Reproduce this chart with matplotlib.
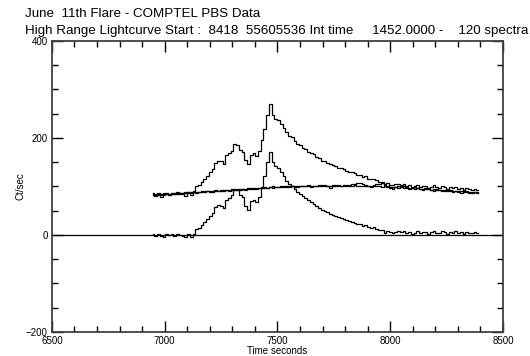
import numpy as np
import matplotlib
matplotlib.use('Agg')
from matplotlib import pyplot as plt
from matplotlib.ticker import MultipleLocator

# 120 spectra, 1452 s integration, starting ~6948 s
t_start = 6948.0
bin_width = 12.1

gross = [86, 80, 86, 82, 82, 87, 83, 87, 85, 88,
         86, 85, 81, 89, 83, 90, 101, 103, 109, 116,
         122, 129, 136, 148, 153, 152, 146, 164, 169, 174,
         187, 186, 175, 172, 155, 146, 165, 168, 163, 174,
         195, 218, 247, 270, 247, 240, 237, 228, 221, 212,
         205, 202, 193, 188, 185, 180, 177, 172, 169, 166,
         161, 158, 153, 152, 148, 146, 145, 142, 139, 138,
         136, 132, 129, 129, 127, 124, 124, 120, 121, 116,
         115, 116, 113, 110, 110, 105, 107, 104, 103, 105,
         106, 104, 105, 101, 104, 99, 100, 104, 99, 100,
         102, 97, 99, 103, 98, 96, 101, 98, 94, 99,
         96, 98, 95, 96, 92, 97, 94, 92, 95, 92]

background = [84, 83, 85, 84, 86, 85, 84, 86, 87, 85,
              86, 87, 86, 88, 87, 88, 89, 88, 89, 90,
              90, 89, 91, 90, 91, 92, 91, 92, 93, 92,
              93, 94, 93, 94, 95, 94, 95, 96, 95, 96,
              97, 96, 97, 98, 97, 98, 99, 98, 99, 100,
              99, 100, 99, 100, 101, 100, 101, 100, 101, 102,
              101, 102, 101, 102, 101, 102, 103, 102, 101, 102,
              103, 102, 101, 102, 103, 102, 101, 102, 101, 100,
              101, 100, 101, 100, 99, 100, 99, 98, 99, 98,
              97, 98, 97, 96, 97, 96, 95, 96, 95, 94,
              95, 94, 93, 94, 93, 92, 93, 92, 91, 92,
              91, 90, 91, 90, 89, 90, 89, 88, 89, 88]

background2 = [82, 84, 83, 78, 84, 85, 83, 85, 84, 86,
               85, 87, 88, 86, 88, 89, 87, 89, 90, 88,
               91, 90, 89, 92, 91, 90, 93, 92, 91, 94,
               92, 93, 95, 94, 93, 96, 97, 95, 96, 97,
               96, 98, 97, 99, 100, 99, 98, 100, 101, 99,
               100, 102, 101, 99, 100, 102, 101, 103, 99, 100,
               102, 103, 104, 103, 100, 97, 101, 104, 103, 102,
               101, 103, 104, 106, 105, 107, 108, 106, 104, 101,
               99, 103, 105, 106, 107, 104, 101, 97, 95, 98,
               101, 102, 100, 98, 95, 96, 98, 97, 94, 93,
               96, 95, 93, 91, 94, 92, 90, 91, 93, 90,
               89, 91, 88, 87, 90, 88, 87, 86, 88, 87]

net = [2, -3, 1, -2, -4, 2, -1, 1, -2, 3,
       0, -2, -5, 1, -4, 2, 12, 15, 20, 26,
       32, 40, 45, 58, 62, 60, 55, 72, 76, 82,
       94, 92, 82, 78, 60, 52, 70, 72, 68, 78,
       98, 122, 150, 172, 150, 142, 138, 130, 122, 112,
       106, 102, 94, 88, 84, 80, 76, 72, 68, 64,
       60, 56, 52, 50, 47, 44, 42, 40, 38, 36,
       33, 30, 28, 27, 24, 22, 23, 18, 20, 16,
       14, 16, 12, 10, 11, 5, 8, 6, 4, 7,
       9, 6, 8, 5, 7, 3, 5, 8, 4, 6,
       7, 3, 6, 9, 5, 4, 8, 6, 3, 7,
       5, 8, 4, 6, 3, 7, 5, 4, 6, 4]

time = t_start + bin_width * np.arange(len(gross))

plt.rcParams['font.family'] = ['Liberation Sans', 'DejaVu Sans']

fig = plt.figure(figsize=(5.3, 3.56), dpi=100)
ax = fig.add_axes([0.098, 0.0674, 0.851, 0.8176])

for y in (gross, background, background2, net):
    ax.step(time, y, where='mid', color='black', lw=0.9)
ax.axhline(0, color='black', lw=0.9)

ax.set_xlim(6500, 8500)
ax.set_ylim(-200, 400)
ax.xaxis.set_major_locator(MultipleLocator(500))
ax.xaxis.set_minor_locator(MultipleLocator(100))
ax.yaxis.set_major_locator(MultipleLocator(200))
ax.yaxis.set_minor_locator(MultipleLocator(50))
ax.tick_params(which='both', direction='in', top=True, right=True,
               width=1, labelsize=7, pad=3)
ax.tick_params(which='major', length=8)
ax.tick_params(which='minor', length=4)
for s in ax.spines.values():
    s.set_linewidth(1.3)
    s.set_color('#404040')

ax.set_xlabel('Time seconds', fontsize=7, labelpad=0)
ax.set_ylabel('Ct/sec', fontsize=7)
ax.yaxis.set_label_coords(-0.058, 0.5)

fig.text(0.047, 0.961, 'June  11th Flare - COMPTEL PBS Data', fontsize=9.6, va='center')
fig.text(0.047, 0.914, 'High Range Lightcurve Start :  8418  55605536 Int time     1452.0000 -    120 spectra',
         fontsize=9.6, va='center')

fig.savefig('out.png', dpi=100)
